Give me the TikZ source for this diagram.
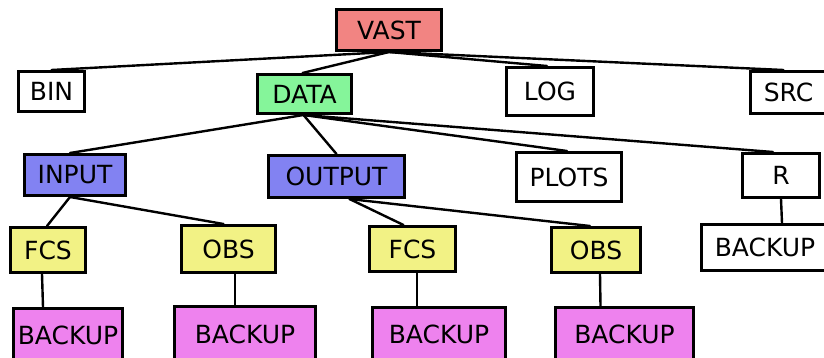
\documentclass[tikz,border=0pt]{standalone}
\usepackage{fontspec}
\setmainfont{DejaVu Sans}
\definecolor{rootred}{HTML}{F28482}
\definecolor{datagreen}{HTML}{85F59A}
\definecolor{ioblue}{HTML}{8282F2}
\definecolor{leafyellow}{HTML}{F2F285}
\definecolor{backuppink}{HTML}{EE82EE}
\tikzset{
  dirbox/.style={draw=black, line width=2.8pt, inner sep=0pt,
    font=\fontsize{25}{30}\selectfont},
  link/.style={draw=black, line width=2.4pt, line cap=round},
}
% a directory box given by name, fill, centre x, centre y, outer width, outer height, label
\newcommand{\dirnode}[7]{%
  \node[dirbox, fill=#2, minimum width=#5pt-2.8pt, minimum height=#6pt-2.8pt] (#1) at (#3,#4) {#7};}
\begin{document}
\begin{tikzpicture}[x=1pt,y=-1pt]
  \useasboundingbox (0,0) rectangle (824,358);
  \clip (0,0) rectangle (824,358);

  % level 0
  \dirnode{vast}{rootred}{389}{30}{108}{44}{VAST}
  % level 1
  \dirnode{bin}{white}{51.5}{91.5}{69}{43}{BIN}
  \dirnode{data}{datagreen}{304.5}{94}{97}{42}{DATA}
  \dirnode{log}{white}{550}{91.5}{90}{51}{LOG}
  \dirnode{src}{white}{788.5}{92.5}{79}{45}{SRC}
  % level 2
  \dirnode{input}{ioblue}{75}{175}{104}{44}{INPUT}
  \dirnode{output}{ioblue}{336.5}{176.5}{139}{45}{OUTPUT}
  \dirnode{plots}{white}{569}{177}{108}{52}{PLOTS}
  \dirnode{r}{white}{781}{175.5}{80}{47}{R}
  % level 3
  \dirnode{infcs}{leafyellow}{48}{250}{78}{48}{FCS}
  \dirnode{inobs}{leafyellow}{228.5}{249}{97}{50}{OBS}
  \dirnode{outfcs}{leafyellow}{412.5}{249}{89}{48}{FCS}
  \dirnode{outobs}{leafyellow}{596}{250}{92}{48}{OBS}
  \dirnode{rbackup}{white}{765}{247.5}{130}{49}{BACKUP}
  % level 4
  \dirnode{infcsbk}{backuppink}{68}{335}{112}{56}{BACKUP}
  \dirnode{inobsbk}{backuppink}{245}{334}{144}{58}{BACKUP}
  \dirnode{outfcsbk}{backuppink}{439}{334.5}{136}{57}{BACKUP}
  \dirnode{outobsbk}{backuppink}{624.5}{334.5}{141}{57}{BACKUP}

  % connectors
  \draw[link] (vast.south) -- (bin.north);
  \draw[link] (vast.south) -- ([xshift=-2pt]data.north);
  \draw[link] (vast.south) -- ([xshift=-3pt]log.north);
  \draw[link] (vast.south) -- ([xshift=-5pt]src.north);

  \draw[link] ([xshift=-1pt]data.south) -- ([xshift=-5pt]input.north);
  \draw[link] ([xshift=-1pt]data.south) -- (output.north);
  \draw[link] ([xshift=-1pt]data.south) -- ([xshift=-2pt]plots.north);
  \draw[link] ([xshift=-1pt]data.south) -- ([xshift=-8pt]r.north);

  \draw[link] ([xshift=-5pt]input.south) -- ([xshift=-1pt]infcs.north);
  \draw[link] ([xshift=-5pt]input.south) -- ([xshift=-5pt]inobs.north);
  \draw[link] ([xshift=13pt]output.south) -- ([xshift=-9pt]outfcs.north);
  \draw[link] ([xshift=13pt]output.south) -- ([xshift=-6pt]outobs.north);
  \draw[link] (r.south) -- ([xshift=17pt]rbackup.north);

  \draw[link] ([xshift=-6pt]infcs.south) -- ([xshift=-25pt]infcsbk.north);
  \draw[link] ([xshift=6.5pt]inobs.south) -- ([xshift=-10pt]inobsbk.north);
  \draw[link] ([xshift=4.5pt]outfcs.south) -- ([xshift=-22pt]outfcsbk.north);
  \draw[link] ([xshift=4pt]outobs.south) -- ([xshift=-24pt]outobsbk.north);
\end{tikzpicture}
\end{document}
